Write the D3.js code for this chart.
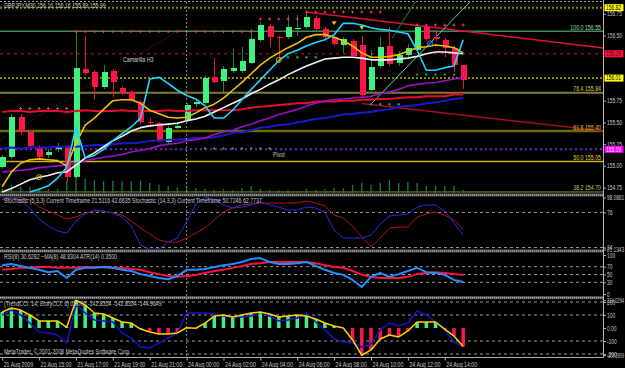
<!DOCTYPE html>
<html>
<head>
<meta charset="utf-8">
<script src="https://cdn.jsdelivr.net/npm/d3@7"></script>
<style>
  html, body { margin: 0; padding: 0; background: #000; }
  svg { display: block; font-family: "Liberation Sans", Arial, sans-serif; }
</style>
</head>
<body>
<svg id="chart" width="625" height="368"></svg>
<script>
// GBPJPY M30, bars 0..50 = 21 Aug 2009 13:00 .. 24 Aug 15:00
const timeLabels = ['21 Aug 2009', '21 Aug 15:00', '21 Aug 17:00', '21 Aug 19:00', '21 Aug 21:00',
  '24 Aug 00:00', '24 Aug 02:00', '24 Aug 04:00', '24 Aug 06:00', '24 Aug 08:00',
  '24 Aug 10:00', '24 Aug 12:00', '24 Aug 14:00'];
const timeLabelBars = [0, 4, 8, 12, 16, 20, 24, 28, 32, 36, 40, 44, 48];
const daySeparatorBar = 20;

const openP = [154.99, 155.10, 155.56, 155.39, 155.21, 155.12, 155.19, 155.22, 154.87, 156.11, 156.08, 155.91, 156.09, 155.90, 155.85, 155.73,
  155.50, 155.49, 155.28, 155.44, 155.53, 155.71, 155.72, 156.02, 155.98, 156.09, 156.09, 156.18, 156.45, 156.61, 156.48, 156.48,
  156.58, 156.60, 156.70, 156.58, 156.48, 156.39, 156.44, 156.39, 155.87, 156.15, 156.38, 156.18, 156.28, 156.33, 156.60, 156.48,
  156.45, 156.36, 156.16];
const highP = [155.13, 155.60, 155.60, 155.41, 155.24, 155.19, 155.26, 155.24, 156.54, 156.49, 156.10, 156.16, 156.11, 155.92, 155.87, 155.76,
  155.55, 155.51, 155.46, 155.50, 155.72, 155.76, 156.03, 156.24, 156.15, 156.34, 156.37, 156.58, 156.65, 156.63, 156.50, 156.74,
  156.74, 156.77, 156.72, 156.60, 156.50, 156.48, 156.46, 156.49, 156.33, 156.48, 156.60, 156.32, 156.40, 156.62, 156.62, 156.56,
  156.47, 156.38, 156.16];
const lowP = [154.96, 155.08, 155.36, 155.20, 155.07, 155.09, 155.16, 154.82, 154.85, 156.05, 155.76, 155.88, 155.79, 155.82, 155.73, 155.48,
  155.45, 155.27, 155.25, 155.42, 155.50, 155.68, 155.70, 155.95, 155.85, 156.07, 156.07, 156.17, 156.43, 156.37, 156.18, 156.46,
  156.50, 156.58, 156.56, 156.46, 156.38, 156.30, 156.24, 155.78, 155.84, 156.13, 156.15, 156.15, 156.25, 156.31, 156.44, 156.44,
  156.25, 156.08, 155.89];
const closeP = [155.10, 155.56, 155.39, 155.23, 155.10, 155.16, 155.23, 154.87, 156.13, 156.07, 155.91, 156.08, 155.97, 155.84, 155.76, 155.50,
  155.49, 155.30, 155.44, 155.46, 155.70, 155.73, 156.01, 155.97, 156.11, 156.13, 156.21, 156.46, 156.62, 156.48, 156.47, 156.60,
  156.59, 156.71, 156.58, 156.48, 156.40, 156.46, 156.26, 155.82, 156.14, 156.37, 156.17, 156.27, 156.36, 156.60, 156.46, 156.46,
  156.36, 156.16, 155.99];
const tickVolume = [200, 330, 240, 250, 190, 160, 170, 480, 870, 560, 520, 470, 490, 480, 470, 490,
  400, 330, 280, 240, 250, 200, 160, 120, 150, 110, 200, 280, 170, 120, 110, 130,
  80, 160, 120, 150, 210, 200, 320, 410, 330, 400, 520, 410, 440, 400, 280, 290,
  270, 290, 120];

// moving averages on the price window
const maYellow = [154.76, 154.93, 155.03, 155.07, 155.08, 155.07, 155.06, 155.00, 155.26, 155.47, 155.55, 155.65, 155.75, 155.76, 155.76, 155.72,
  155.64, 155.60, 155.56, 155.55, 155.56, 155.61, 155.67, 155.71, 155.78, 155.87, 155.96, 156.06, 156.16, 156.24, 156.30, 156.36,
  156.41, 156.48, 156.51, 156.51, 156.48, 156.44, 156.38, 156.30, 156.25, 156.25, 156.26, 156.28, 156.32, 156.36, 156.37, 156.39,
  156.38, 156.36, 156.30];
const maWhite = [154.70, 154.74, 154.79, 154.84, 154.87, 154.89, 154.92, 154.93, 155.01, 155.09, 155.15, 155.22, 155.29, 155.34, 155.40, 155.44,
  155.46, 155.47, 155.48, 155.49, 155.52, 155.54, 155.57, 155.62, 155.67, 155.72, 155.77, 155.83, 155.88, 155.94, 155.99, 156.05,
  156.10, 156.15, 156.19, 156.23, 156.24, 156.25, 156.25, 156.24, 156.22, 156.22, 156.22, 156.23, 156.24, 156.26, 156.29, 156.31,
  156.31, 156.30, 156.29];
const maCyan = [null, null, null, 154.70, 154.73, 154.77, 154.86, 154.98, 155.45, 155.09, 155.12, 155.19, 155.29, 155.37, 155.45, 155.55,
  156.00, 156.02, 155.95, 155.87, 155.81, 155.77, 155.69, 155.55, 155.55, 155.64, 155.76, 155.88, 155.99, 156.10, 156.21, 156.29,
  156.33, 156.38, 156.42, 156.45, 156.51, 156.64, 156.64, 156.62, 156.59, 156.57, 156.56, 156.54, 156.52, 156.33, 156.10, 156.10,
  156.13, 156.15, 156.45];
const maPurple = [154.93, 154.94, 154.95, 154.96, 154.98, 154.99, 155.00, 155.01, 155.03, 155.06, 155.08, 155.10, 155.11, 155.13, 155.16, 155.18,
  155.20, 155.23, 155.25, 155.26, 155.29, 155.30, 155.32, 155.36, 155.39, 155.41, 155.45, 155.48, 155.52, 155.55, 155.59, 155.62,
  155.65, 155.69, 155.72, 155.75, 155.76, 155.77, 155.78, 155.79, 155.80, 155.83, 155.85, 155.88, 155.92, 155.94, 155.95, 155.96,
  155.98, 156.00, 156.01];
const maBlue = [155.20, 155.21, 155.20, 155.21, 155.21, 155.21, 155.22, 155.22, 155.22, 155.23, 155.24, 155.24, 155.25, 155.26, 155.26, 155.27,
  155.29, 155.29, 155.30, 155.30, 155.31, 155.32, 155.32, 155.33, 155.35, 155.38, 155.39, 155.41, 155.44, 155.45, 155.47, 155.48,
  155.50, 155.52, 155.54, 155.55, 155.57, 155.59, 155.60, 155.61, 155.62, 155.64, 155.65, 155.68, 155.69, 155.70, 155.72, 155.73,
  155.75, 155.77, 155.78];
const maRed = [155.62, 155.63, 155.63, 155.62, 155.63, 155.63, 155.63, 155.62, 155.63, 155.64, 155.63, 155.63, 155.63, 155.64, 155.63, 155.63,
  155.63, 155.63, 155.64, 155.63, 155.63, 155.64, 155.64, 155.64, 155.64, 155.64, 155.65, 155.67, 155.68, 155.69, 155.70, 155.71,
  155.72, 155.72, 155.74, 155.74, 155.74, 155.75, 155.75, 155.76, 155.76, 155.77, 155.77, 155.78, 155.79, 155.79, 155.80, 155.80,
  155.80, 155.82, 155.82];

// dot markers
const redDotBars = [2, 3, 4, 5, 6, 7, 8, 9, 10, 11, 12, 13, 14, 15, 16, 17, 18, 19, 20, 21, 22, 23, 24, 25, 26, 27,
  28, 29, 30, 31, 32, 33, 34, 35, 36, 37, 38, 39, 40, 41, 45, 46, 47, 48, 49, 50];
const redDotPrices = [155.66, 155.66, 155.66, 155.66, 155.66, 155.66,
  156.545, 156.545, 156.545, 156.545, 156.545, 156.545, 156.545, 156.545, 156.545, 156.545,
  156.545, 156.545, 156.545, 156.545, 156.545, 156.545, 156.545, 156.545, 156.545, 156.545,
  156.69, 156.69, 156.69, 156.69, 156.69,
  156.77, 156.77, 156.77, 156.77, 156.77, 156.77, 156.77, 156.77, 156.77,
  156.62, 156.62, 156.62, 156.62, 156.62, 156.62];
const greenDotBars = [22, 23, 24, 25, 26, 27, 28, 29, 31, 32, 33, 34, 40, 41, 42, 43, 45, 46, 47, 48, 49];
const greenDotPrices = [155.20, 155.20, 155.20, 155.20, 155.20, 155.20, 155.20, 155.20,
  156.25, 156.25, 156.25, 156.25, 155.71, 155.71, 155.71, 155.71,
  156.05, 156.05, 156.05, 156.05, 156.05];
const ringBars = [4, 30, 46.4];
const ringPrices = [154.87, 156.22, 156.41];
const ringKinds = ['gold', 'gold', 'blue'];
const arrowBars = [36, 39];
const arrowPrices = [156.64, 156.59];

// horizontal levels and objects
const levelPrices = [156.82, 156.55, 156.29, 156.01, 155.84, 155.40, 155.19, 155.05, 154.70];
const levelKinds = ['dayDots', 'fib100', 'camH3', 'dayDots', 'fib764', 'fib618', 'pivot', 'fib500', 'fib382'];
const fibNames = ['100.0', '76.4', '61.8', '50.0', '38.2'];
const fibPrices = [156.55, 155.84, 155.40, 155.05, 154.70];
const trendStart = [[33, 156.77], [39, 155.718], [39.9, 155.70], [42.3, 156.471], [-0.24, 155.30]];
const trendEnd = [[65.2, 156.356], [65.2, 155.40], [50.95, 156.91], [44.93, 156.91], [19, 156.55]];
const trendKinds = ['resist', 'channel', 'rayLight', 'rayDark', 'fibDiag'];
const priceTicks = [156.75, 156.50, 155.75, 155.50, 155.25, 155.00, 154.75];
const tagPrices = [156.82, 156.29, 156.01, 155.19];
const tagKinds = ['yellow', 'red', 'yellow', 'magenta'];

// stochastic window
const stochFast = [97.4, 98.0, 94.4, 82.5, 66.3, 55.9, 48.5, 45.5, 63.3, 73.7, 79.6, 78.1, 75.1, 69.2, 55.9, 27.8,
  21.2, 22.0, 32.2, 38.1, 61.8, 88.5, 98.0, 95.9, 87.0, 82.5, 84.0, 87.0, 91.4, 87.0, 84.0, 79.6,
  79.6, 84.0, 82.5, 76.6, 50.0, 38.1, 38.1, 38.1, 42.6, 58.9, 70.7, 72.2, 73.7, 84.0, 87.0, 87.0,
  78.1, 60.3, 42.66];
const stochSlow = [94.4, 97.3, 98.0, 94.4, 84.0, 78.1, 72.2, 66.3, 69.2, 75.1, 78.1, 78.1, 75.1, 72.2, 63.3, 52.9,
  44.1, 35.2, 32.2, 32.2, 38.1, 45.5, 52.9, 64.8, 76.6, 82.5, 87.0, 88.5, 89.9, 89.9, 89.6, 89.9,
  90.1, 92.9, 89.9, 85.5, 72.2, 67.7, 55.9, 39.6, 24.8, 38.1, 52.9, 54.4, 54.4, 69.2, 73.7, 76.6,
  72.2, 64.8, 50.72];
const stochTicks = [98.0861, 76, 24, 21.1343];
const stochLevels = [76, 24];

// RSI window
const rsiMain = [74, 77, 72, 67, 62, 56, 59, 41, 62, 67, 67, 69, 67, 62, 59, 51,
  46, 41, 38, 46, 62, 62, 64, 69, 74, 77, 82, 90, 92, 82, 77, 77,
  79, 82, 72, 62, 54, 49, 36, 18, 44, 54, 44, 51, 59, 67, 56, 54,
  49, 36, 30.63];
const rsiMa = [62, 64, 67, 67, 69, 69, 67, 67, 67, 69, 69, 69, 67, 67, 64, 62,
  56, 51, 46, 44, 46, 49, 54, 59, 62, 67, 72, 77, 79, 82, 82, 82,
  82, 82, 79, 74, 69, 67, 59, 49, 44, 41, 41, 41, 44, 51, 54, 56,
  54, 51, 48.83];
const rsiTicks = [100, 70, 50, 30, 0];
const rsiLevels = [70, 50, 30];

// TrendCCI window
const cciTrend = [123, 154, 138, 100, 54, 54, 54, 5, 214.03, 177, 115, 108, 77, 46, 38, -8,
  -31, -46, -46, -38, 2, -2, 38, 92, 100, 85, 100, 115, 123, 108, 85, 92,
  100, 92, 69, 38, 15, 0, -92, -209.59, -169, -85, -54, -69, -23, 46, 46, 46,
  -8, -62, -142.84];
const cciEntry = [100, 138, 100, 38, -31, -38, -54, -115, 177, 115, 62, 54, 46, -38, -77, -146,
  -154, -115, -77, -38, 115, 115, 115, 108, 92, 85, 85, 92, 123, 92, 54, 62,
  77, 115, 46, -15, -85, -108, -115, -146, -123, -15, 38, 15, 38, 131, 100, 46,
  -15, -108, -144.96];
const cciState = ['up', 'up', 'up', 'up', 'up', 'up', 'up', 'up', 'up', 'up', 'up', 'up', 'up', 'up', 'up', 'up',
  'dn', 'dn', 'dn', 'dn', 'up', 'up', 'up', 'up', 'up', 'up', 'up', 'up', 'up', 'up', 'up', 'up',
  'up', 'up', 'up', 'up', 'up', 'up', 'dn', 'dn', 'dn', 'dn', 'dn', 'dn', 'dn', 'up', 'up', 'up',
  'dn', 'dn', 'dn'];
const cciTicks = [214.0294, 200, 100, 0, -100, -200, -209.5909];
const cciLevels = [200, 100, -100, -200];

const titleText = 'GBPJPY,M30  156.16 156.16 155.89 155.99';
const stochText = 'Stochastic (5,3,3) Current Timeframe 21.5116 42.6635  Stochastic (14,3,3) Current Timeframe 50.7246 62.7737';
const rsiText = 'RSI(8) 30.6282  ~MA(8) 48.8304  ATR(14) 0.3500';
const cciText = '(TrendCCI: 14, EntryCCI: 6) 0.0000 -142.8354 -142.8354 -144.9649';
const copyText = 'MetaTrader, \u00a9 2001-2008 MetaQuotes Software Corp.';

// ---- drawing ----
const svg = d3.select('#chart');
const RX = 603.5;       // right edge of the chart, price scale beyond
const K = 0.75;         // horizontal squeeze of the small screen font

const bars = d3.range(openP.length);
const x = d3.scaleLinear().domain([0, 50]).range([2.2, 463.2]);
const yMain = d3.scaleLinear().domain([154.75, 156.50]).range([187.6, 35.5]);
const yVol = d3.scaleLinear().domain([0, 1000]).range([193, 168]);
const yStoch = d3.scaleLinear().domain([21.1343, 98.0861]).range([249.5, 197.5]);
const yRsi = d3.scaleLinear().domain([0, 100]).range([294, 255]);
const yCci = d3.scaleLinear().domain([-100, 100]).range([341, 315]);

// squeeze text horizontally, never past the right edge of the picture
function squeeze(sel, maxRight = 624) {
  sel.each(function () {
    const len = this.getComputedTextLength();
    if (len <= 0) return;
    const box = this.getBBox();
    const m = this.getCTM();
    const left = box.x + (m ? m.e : 0);
    const w = Math.min(len * K, maxRight - left);
    d3.select(this).attr('textLength', w).attr('lengthAdjust', 'spacingAndGlyphs');
  });
}

svg.append('rect').attr('width', 625).attr('height', 368).attr('fill', '#000');

const defs = svg.append('defs');
[['clipMain', 2, 193], ['clipStoch', 196.5, 249.5], ['clipRsi', 252.5, 296], ['clipCci', 299, 357.5]].forEach(([id, y0, y1]) => {
  defs.append('clipPath').attr('id', id).append('rect').attr('x', 0).attr('y', y0).attr('width', RX).attr('height', y1 - y0);
});

const gMain = svg.append('g').attr('clip-path', 'url(#clipMain)');

// horizontal levels
const levelStyle = {
  dayDots: { stroke: '#8a8a00', w: 2, dash: '2,2' },
  fib100: { stroke: '#3f8a5a', w: 1.5, dash: null },
  camH3: { stroke: '#c0103a', w: 1, dash: '3,4' },
  fib764: { stroke: '#85792c', w: 2, dash: null },
  fib618: { stroke: '#6e6a00', w: 2.5, dash: null },
  pivot: { stroke: '#7a20c8', w: 2, dash: '2,3' },
  fib500: { stroke: '#d4b400', w: 1.5, dash: null },
  fib382: { stroke: '#8a8a20', w: 1, dash: null }
};
gMain.selectAll('.lvl').data(levelPrices).join('line')
  .attr('x1', 0).attr('x2', RX)
  .attr('y1', d => yMain(d)).attr('y2', d => yMain(d))
  .attr('stroke', (d, k) => levelStyle[levelKinds[k]].stroke)
  .attr('stroke-width', (d, k) => levelStyle[levelKinds[k]].w)
  .attr('stroke-dasharray', (d, k) => levelStyle[levelKinds[k]].dash);

// day separator
svg.append('line')
  .attr('x1', x(daySeparatorBar)).attr('x2', x(daySeparatorBar))
  .attr('y1', 2).attr('y2', 357.5)
  .attr('stroke', '#8c8c8c').attr('stroke-dasharray', '2,2');

// volume
gMain.selectAll('.vol').data(bars).join('line')
  .attr('x1', i => x(i)).attr('x2', i => x(i))
  .attr('y1', yVol(0)).attr('y2', i => yVol(tickVolume[i]))
  .attr('stroke', '#12803a').attr('stroke-width', 1.3);

// trend lines
const trendStyle = {
  resist: { stroke: '#e0103c', w: 1.5, dash: null },
  channel: { stroke: '#a01028', w: 1.5, dash: null },
  rayLight: { stroke: '#5cd49c', w: 1, dash: null },
  rayDark: { stroke: '#0f6a2c', w: 1.2, dash: null },
  fibDiag: { stroke: '#a0103c', w: 1, dash: '1,2' }
};
gMain.selectAll('.trend').data(trendKinds).join('line')
  .attr('x1', (d, k) => x(trendStart[k][0])).attr('y1', (d, k) => yMain(trendStart[k][1]))
  .attr('x2', (d, k) => x(trendEnd[k][0])).attr('y2', (d, k) => yMain(trendEnd[k][1]))
  .attr('stroke', d => trendStyle[d].stroke)
  .attr('stroke-width', d => trendStyle[d].w)
  .attr('stroke-dasharray', d => trendStyle[d].dash);

// candles
const bull = i => closeP[i] >= openP[i];
const cw = 6;
gMain.append('g').attr('shape-rendering', 'crispEdges').selectAll('line').data(bars).join('line')
  .attr('x1', i => Math.round(x(i)) + 0.5).attr('x2', i => Math.round(x(i)) + 0.5)
  .attr('y1', i => yMain(highP[i])).attr('y2', i => yMain(lowP[i]))
  .attr('stroke', i => bull(i) ? '#128a3a' : '#e8103f');
gMain.append('g').attr('shape-rendering', 'crispEdges').selectAll('rect').data(bars).join('rect')
  .attr('x', i => Math.round(x(i)) - cw / 2 + 0.5)
  .attr('width', cw)
  .attr('y', i => yMain(Math.max(openP[i], closeP[i])))
  .attr('height', i => Math.max(1, yMain(Math.min(openP[i], closeP[i])) - yMain(Math.max(openP[i], closeP[i]))))
  .attr('fill', i => bull(i) ? '#42f07e' : '#ff1446');

// moving averages
function drawLine(g, values, yS, color, w) {
  const gen = d3.line().defined(i => values[i] != null).x(i => x(i)).y(i => yS(values[i]));
  g.append('path').datum(bars).attr('d', gen)
    .attr('fill', 'none').attr('stroke', color).attr('stroke-width', w).attr('stroke-linejoin', 'round');
}
drawLine(gMain, maRed, yMain, '#e0102c', 2);
drawLine(gMain, maBlue, yMain, '#1a1ac8', 2);
drawLine(gMain, maPurple, yMain, '#9a10c8', 1.6);
drawLine(gMain, maWhite, yMain, '#f2f2f2', 1.6);
drawLine(gMain, maYellow, yMain, '#f0c000', 1.6);
drawLine(gMain, maCyan, yMain, '#22d4ff', 1.6);

// dots and signal glyphs
gMain.selectAll('.rdot').data(redDotBars).join('path')
  .attr('d', (d, k) => { const cx = x(d), cy = yMain(redDotPrices[k]); return `M${cx - 1.5},${cy}H${cx + 1.5}M${cx},${cy - 1.5}V${cy + 1.5}`; })
  .attr('stroke', '#ff2f62').attr('stroke-width', 1);
gMain.selectAll('.gdot').data(greenDotBars).join('circle')
  .attr('cx', d => x(d)).attr('cy', (d, k) => yMain(greenDotPrices[k])).attr('r', 1.2)
  .attr('fill', '#1fa04c');
const ringColor = { gold: '#c8b000', blue: '#3a7cff' };
gMain.selectAll('.ring').data(ringBars).join('g')
  .each(function (d, k) {
    const cx = x(d), cy = yMain(ringPrices[k]), c = ringColor[ringKinds[k]];
    const g = d3.select(this);
    g.append('circle').attr('cx', cx).attr('cy', cy).attr('r', 2.5).attr('fill', 'none').attr('stroke', c).attr('stroke-width', 1);
    g.append('line').attr('x1', cx - 2.5).attr('x2', cx + 2.5).attr('y1', cy + 2.5).attr('y2', cy - 2.5).attr('stroke', c);
  });
gMain.selectAll('.arrow').data(arrowBars).join('path')
  .attr('d', (d, k) => { const cx = x(d), cy = yMain(arrowPrices[k]); return `M${cx - 2.5},${cy - 2}L${cx + 2.5},${cy - 2}L${cx},${cy + 2}Z`; })
  .attr('fill', '#e0c000');

// fibonacci texts
const fibColor = ['#a8d8a8', '#d8c870', '#e8b830', '#e0d040', '#c8c060'];
svg.selectAll('.fibt').data(fibNames).join('text')
  .attr('x', 601).attr('y', (d, k) => yMain(fibPrices[k]) - 1.5)
  .attr('text-anchor', 'end').attr('font-size', 7)
  .attr('fill', (d, k) => fibColor[k])
  .text((d, k) => `${d}  ${fibPrices[k].toFixed(2)}`)
  .call(squeeze);

// object labels
svg.append('text').attr('x', 123).attr('y', 62).attr('font-size', 7).attr('fill', '#d0d0d0').text('Camarilla H3').call(squeeze);
svg.append('text').attr('x', 273).attr('y', 157).attr('font-size', 7).attr('fill', '#c0c0c0').text('Pivot').call(squeeze);
svg.append('text').attr('x', 4).attr('y', 8).attr('font-size', 7).attr('fill', '#d0d0d0').text(titleText).call(squeeze);

// ---- stochastic window ----
const gSto = svg.append('g').attr('clip-path', 'url(#clipStoch)');
gSto.selectAll('line').data(stochLevels).join('line')
  .attr('x1', 0).attr('x2', RX).attr('y1', d => yStoch(d)).attr('y2', d => yStoch(d))
  .attr('stroke', '#9a9a9a').attr('stroke-dasharray', '3,3');
drawLine(gSto, stochSlow, yStoch, '#b01414', 1);
drawLine(gSto, stochFast, yStoch, '#2a2ae0', 1);
svg.append('text').attr('x', 4).attr('y', 203).attr('font-size', 7).attr('fill', '#c8c8c8').text(stochText).call(squeeze);

// ---- RSI window ----
const gRsi = svg.append('g').attr('clip-path', 'url(#clipRsi)');
gRsi.selectAll('line').data(rsiLevels).join('line')
  .attr('x1', 0).attr('x2', RX).attr('y1', d => yRsi(d)).attr('y2', d => yRsi(d))
  .attr('stroke', '#9a9a9a').attr('stroke-dasharray', '3,3');
drawLine(gRsi, rsiMa, yRsi, '#ff1040', 2);
drawLine(gRsi, rsiMain, yRsi, '#1e90ff', 2);
svg.append('text').attr('x', 4).attr('y', 258.5).attr('font-size', 7).attr('fill', '#c8c8c8').text(rsiText).call(squeeze);

// ---- TrendCCI window ----
const gCci = svg.append('g').attr('clip-path', 'url(#clipCci)');
gCci.selectAll('line').data(cciLevels).join('line')
  .attr('x1', 0).attr('x2', RX).attr('y1', d => yCci(d)).attr('y2', d => yCci(d))
  .attr('stroke', '#9a9a9a').attr('stroke-dasharray', '3,3');
gCci.append('g').selectAll('line').data(bars).join('line')
  .attr('x1', i => x(i)).attr('x2', i => x(i))
  .attr('y1', yCci(0)).attr('y2', i => yCci(cciTrend[i]))
  .attr('stroke', i => cciState[i] === 'up' ? '#42f07e' : '#ff1446')
  .attr('stroke-width', 3.5);
drawLine(gCci, cciEntry, yCci, '#1414c8', 1.5);
drawLine(gCci, cciTrend, yCci, '#ffd000', 1.5);
svg.append('text').attr('x', 4).attr('y', 305.5).attr('font-size', 7).attr('fill', '#c8c8c8').text(cciText).call(squeeze);
svg.append('text').attr('x', 4).attr('y', 354).attr('font-size', 7).attr('fill', '#c8c8c8').text(copyText).call(squeeze);

// ---- frame ----
svg.append('line').attr('x1', 0).attr('x2', RX).attr('y1', 1.5).attr('y2', 1.5).attr('stroke', '#a0a0a0').attr('stroke-dasharray', '2,2');
[193.5, 249.5, 296.2].forEach(yy => {
  svg.append('rect').attr('x', 0).attr('y', yy).attr('width', RX).attr('height', 3).attr('fill', '#5a5a5a');
  svg.append('line').attr('x1', 0).attr('x2', RX).attr('y1', yy + 1.5).attr('y2', yy + 1.5)
    .attr('stroke', '#c8c8c8').attr('stroke-dasharray', '1,1').attr('stroke-width', 1);
});
svg.append('line').attr('x1', 0).attr('x2', RX).attr('y1', 357.5).attr('y2', 357.5).attr('stroke', '#b0b0b0');
svg.append('line').attr('x1', RX).attr('x2', RX).attr('y1', 0).attr('y2', 358).attr('stroke', '#a8b8a8');

// axes
function styleAxis(g, size = 7) {
  g.select('.domain').remove();
  g.selectAll('.tick line').attr('stroke', '#b0b0b0');
  g.selectAll('.tick text').attr('fill', '#c8c8c8').attr('font-size', size).attr('font-family', '"Liberation Sans", Arial, sans-serif');
}
svg.append('g').attr('transform', `translate(${RX},0)`)
  .call(d3.axisRight(yMain).tickValues(priceTicks).tickFormat(d3.format('.2f')).tickSize(2.5).tickPadding(1))
  .call(styleAxis, 6.5);

// price tags
const tagStyle = {
  yellow: { bg: '#ffff00', fg: '#000000' },
  red: { bg: '#ff1040', fg: '#700010' },
  magenta: { bg: '#ff00ff', fg: '#ffe0ff' }
};
const gTag = svg.append('g');
gTag.selectAll('rect').data(tagPrices).join('rect')
  .attr('x', 604.5).attr('width', 19).attr('y', d => yMain(d) - 3.5).attr('height', 7)
  .attr('fill', (d, k) => tagStyle[tagKinds[k]].bg);
gTag.selectAll('text').data(tagPrices).join('text')
  .attr('x', 606).attr('y', d => yMain(d) + 2.3).attr('font-size', 6.5)
  .attr('fill', (d, k) => tagStyle[tagKinds[k]].fg)
  .text(d => d.toFixed(2));

svg.append('g').attr('transform', `translate(${RX},0)`)
  .call(d3.axisRight(yStoch).tickValues(stochTicks).tickFormat(d => (d % 1 === 0 ? String(d) : d.toFixed(4))).tickSize(2.5).tickPadding(1))
  .call(styleAxis, 6.5);
svg.append('g').attr('transform', `translate(${RX},0)`)
  .call(d3.axisRight(yRsi).tickValues(rsiTicks).tickFormat(d3.format('d')).tickSize(2.5).tickPadding(1))
  .call(styleAxis, 6.5);
svg.append('g').attr('transform', `translate(${RX},0)`)
  .call(d3.axisRight(yCci).tickValues(cciTicks).tickFormat(d => (d === 0 ? '0.00' : d % 1 === 0 ? String(d) : d.toFixed(4))).tickSize(2.5).tickPadding(1))
  .call(styleAxis, 6.5);

svg.append('g').attr('transform', 'translate(0,357.5)')
  .call(d3.axisBottom(x).tickValues(timeLabelBars).tickFormat((d, k) => timeLabels[k]).tickSize(3).tickPadding(2))
  .call(styleAxis)
  .call(g => g.selectAll('.tick text').attr('text-anchor', 'start').attr('x', 1).attr('dy', '0.6em'));

svg.selectAll('g.tick text').call(squeeze);
gTag.selectAll('text').call(squeeze);
</script>
</body>
</html>
